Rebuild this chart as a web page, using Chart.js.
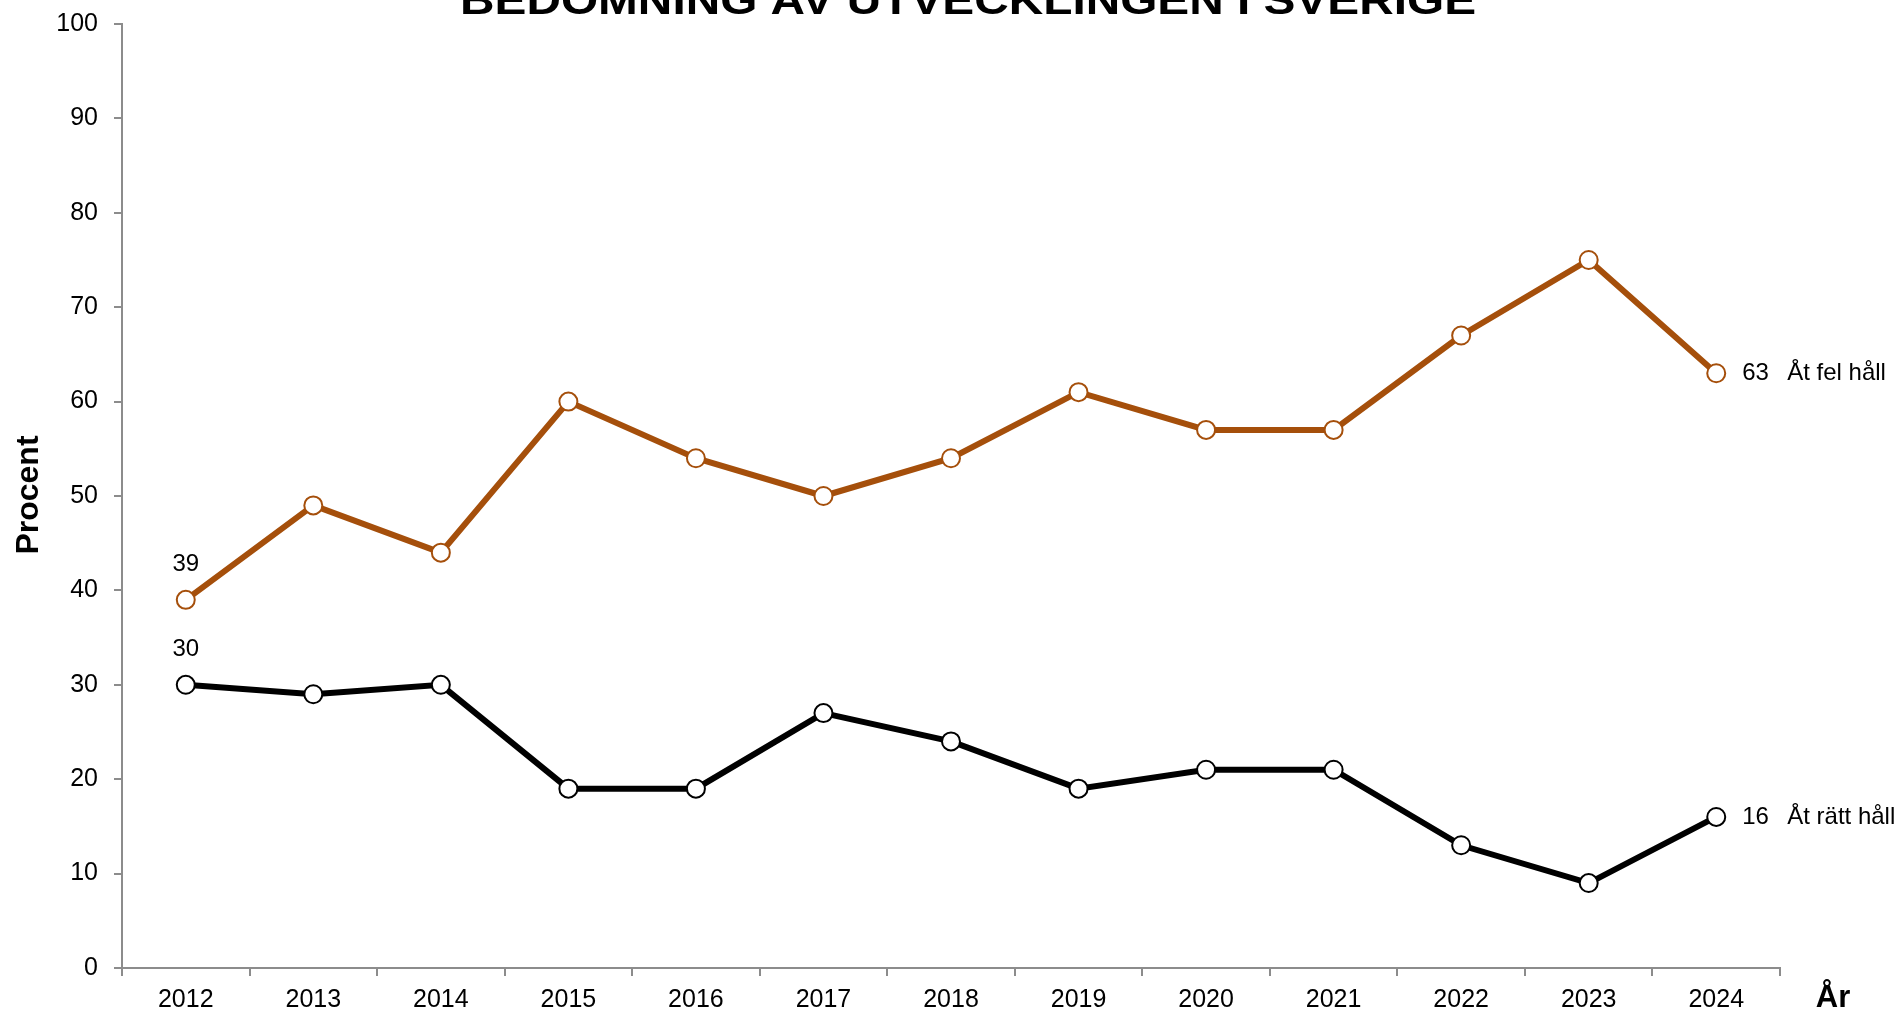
<!DOCTYPE html>
<html>
<head>
<meta charset="utf-8">
<script src="https://cdn.jsdelivr.net/npm/chart.js@4.4.1/dist/chart.umd.min.js"></script>
<style>
html,body{margin:0;padding:0;background:#fff;}
#wrap{width:1900px;height:1012px;position:relative;}
</style>
</head>
<body>
<div id="wrap"><canvas id="c" width="1900" height="1012"></canvas></div>
<script>
const years = ['2012','2013','2014','2015','2016','2017','2018','2019','2020','2021','2022','2023','2024'];
const felHall = [39,49,44,60,54,50,54,61,57,57,67,75,63];
const rattHall = [30,29,30,19,19,27,24,19,21,21,13,9,16];
const seriesNames = ['Åt fel håll','Åt rätt håll'];
const yTicks = [0,10,20,30,40,50,60,70,80,90,100];
const titleText = 'BEDÖMNING AV UTVECKLINGEN I SVERIGE';
const yTitle = 'Procent';
const xTitle = 'År';

const FONT = '"Liberation Sans", Arial, sans-serif';
const ORANGE = '#A54F0B';
const AXIS = '#8c8c8c';

const extras = {
  id: 'extras',
  afterDraw(chart) {
    const ctx = chart.ctx;
    ctx.save();
    ctx.font = 'bold 40px ' + FONT;
    const w = ctx.measureText(titleText).width;
    const targetW = 1016;
    ctx.translate(968, 14);
    ctx.scale(targetW / w, 1);
    ctx.textAlign = 'center';
    ctx.textBaseline = 'alphabetic';
    ctx.fillStyle = '#000';
    ctx.fillText(titleText, 0, 0);
    ctx.restore();

    ctx.save();
    ctx.font = 'bold 32px ' + FONT;
    ctx.fillStyle = '#000';
    ctx.translate(29, 495);
    ctx.rotate(-Math.PI / 2);
    ctx.textAlign = 'center';
    ctx.textBaseline = 'middle';
    ctx.fillText(yTitle, 0, 0);
    ctx.restore();

    ctx.save();
    ctx.font = 'bold 31px ' + FONT;
    ctx.fillStyle = '#000';
    ctx.textAlign = 'center';
    ctx.textBaseline = 'alphabetic';
    ctx.fillText(xTitle, 1833, 1007);
    ctx.restore();

    ctx.save();
    ctx.font = '24px ' + FONT;
    ctx.fillStyle = '#000';
    const sets = [felHall, rattHall];
    sets.forEach((data, di) => {
      const meta = chart.getDatasetMeta(di);
      const first = meta.data[0];
      ctx.textAlign = 'center';
      ctx.textBaseline = 'middle';
      ctx.fillText(String(data[0]), first.x, first.y - 35);
      const last = meta.data[data.length - 1];
      ctx.textAlign = 'left';
      ctx.fillText(String(data[data.length - 1]), last.x + 26, last.y);
      ctx.fillText(seriesNames[di], last.x + 71, last.y);
    });
    ctx.restore();
  }
};

new Chart(document.getElementById('c'), {
  type: 'line',
  data: {
    labels: years,
    datasets: [
      {
        label: seriesNames[0],
        data: felHall,
        borderColor: ORANGE,
        borderWidth: 6,
        pointRadius: 9,
        pointBorderWidth: 2,
        pointBorderColor: ORANGE,
        pointBackgroundColor: '#fff',
        tension: 0
      },
      {
        label: seriesNames[1],
        data: rattHall,
        borderColor: '#000',
        borderWidth: 6,
        pointRadius: 9,
        pointBorderWidth: 2,
        pointBorderColor: '#000',
        pointBackgroundColor: '#fff',
        tension: 0
      }
    ]
  },
  options: {
    responsive: false,
    animation: false,
    layout: { padding: { left: 0, right: 120, top: 24, bottom: 0 } },
    plugins: { legend: { display: false }, title: { display: false }, tooltip: { enabled: false } },
    scales: {
      x: {
        offset: true,
        grid: { offset: true, drawOnChartArea: false, drawTicks: true, tickLength: 8, color: AXIS, lineWidth: 2 },
        border: { color: AXIS, width: 2 },
        ticks: { color: '#000', font: { family: FONT, size: 25 }, padding: 9, maxRotation: 0, autoSkip: false },
        afterFit(s) { s.height = 44; s.paddingLeft = 0; s.paddingRight = 0; }
      },
      y: {
        min: 0, max: 100,
        afterBuildTicks(s) { s.ticks = yTicks.map(v => ({ value: v })); },
        grid: { drawOnChartArea: false, drawTicks: true, tickLength: 8, color: AXIS, lineWidth: 2 },
        border: { color: AXIS, width: 2 },
        ticks: { color: '#000', font: { family: FONT, size: 25 }, padding: 16 },
        afterFit(s) { s.width = 122; s.paddingTop = 0; s.paddingBottom = 0; }
      }
    }
  },
  plugins: [extras]
});
</script>
</body>
</html>
